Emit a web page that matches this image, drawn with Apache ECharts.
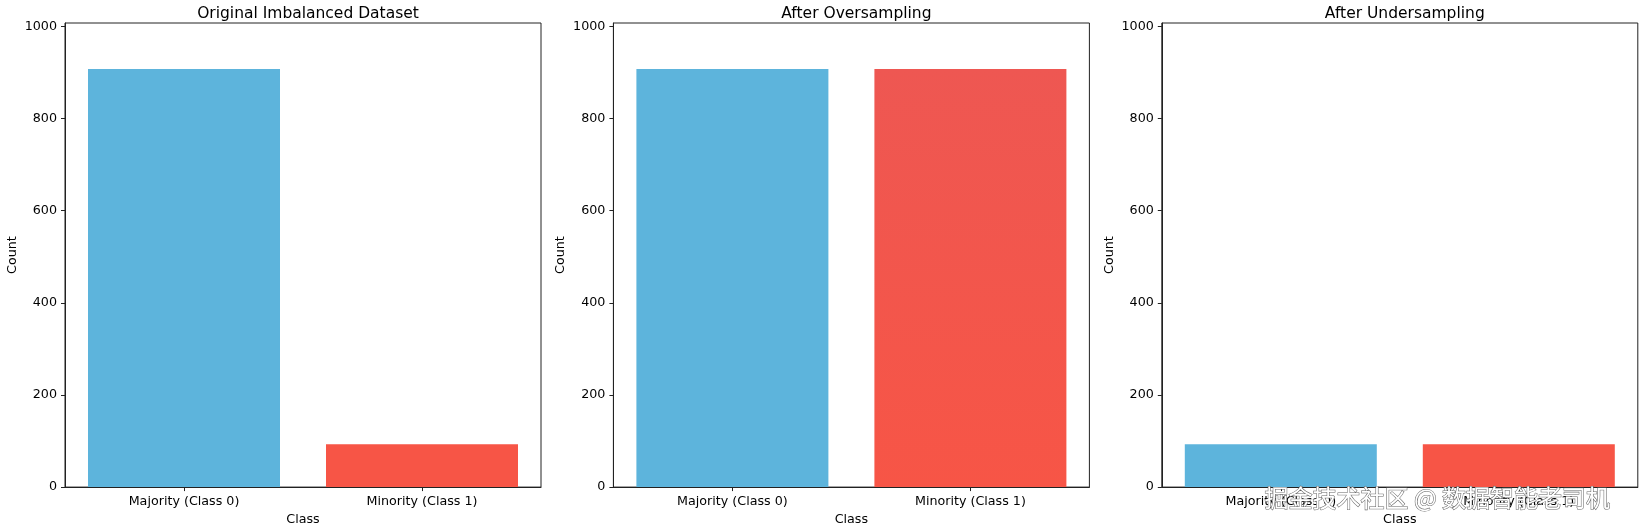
<!DOCTYPE html>
<html>
<head>
<meta charset="utf-8">
<script src="https://cdn.jsdelivr.net/npm/echarts@6/dist/echarts.min.js"></script>
<style>
  html, body { margin: 0; padding: 0; background: #fff; }
  #main { width: 1644px; height: 531px; }
</style>
</head>
<body>
<div id="main"></div>
<script>
// data
const classes = ['Majority (Class 0)', 'Minority (Class 1)'];
const panelTitles = ['Original Imbalanced Dataset', 'After Oversampling', 'After Undersampling'];
const originalCounts = [907, 93];
const oversampledCounts = [907, 907];
const undersampledCounts = [93, 93];
const yTicks = [0, 200, 400, 600, 800, 1000];
const watermark = '掘金技术社区 @ 数据智能老司机';

const panels = [originalCounts, oversampledCounts, undersampledCounts];
const blue = '#5db4dc';
const red = '#f75546';
const font = 'DejaVu Sans';

const chart = echarts.init(document.getElementById('main'), null, { renderer: 'canvas' });

const lefts = [65, 613.4, 1161.8];
const W = 476, TOP = 23, H = 464.5;

const grid = [], xAxis = [], yAxis = [], series = [], title = [];
lefts.forEach((l, i) => {
  grid.push({ left: l, top: TOP, width: W, height: H, show: true, borderColor: '#222', borderWidth: 1, backgroundColor: '#fff' });
  title.push({
    text: panelTitles[i], left: l + W / 2, top: 1, textAlign: 'center',
    textStyle: { fontFamily: font, fontSize: 15.5, fontWeight: 'normal', color: '#000' }
  });
  xAxis.push({
    type: 'category', gridIndex: i, data: classes,
    name: 'Class', nameLocation: 'middle', nameGap: 25,
    nameTextStyle: { fontFamily: font, fontSize: 12.7, color: '#000' },
    axisLine: { show: true, lineStyle: { color: '#222', width: 1 } },
    axisTick: { show: true, alignWithLabel: true, length: 4, lineStyle: { color: '#222' } },
    axisLabel: { fontFamily: font, fontSize: 12.7, color: '#000', margin: 8 },
    splitLine: { show: false }
  });
  yAxis.push({
    type: 'value', gridIndex: i, min: 0, max: 1007,
    name: 'Count', nameLocation: 'middle', nameGap: 46,
    nameTextStyle: { fontFamily: font, fontSize: 12.7, color: '#000' },
    axisLine: { show: true, lineStyle: { color: '#222', width: 1 } },
    axisTick: { show: true, length: 4, lineStyle: { color: '#222' }, customValues: yTicks },
    axisLabel: {
      fontFamily: font, fontSize: 12.7, color: '#000', margin: 8, customValues: yTicks,
      formatter: v => String(v)
    },
    splitLine: { show: false }
  });
  const counts = panels[i];
  series.push({
    type: 'bar', xAxisIndex: i, yAxisIndex: i, barWidth: 192,
    data: counts.map((v, j) => {
      let color = j === 0 ? blue : red;
      if (i === 1 && j === 1) {
        color = new echarts.graphic.LinearGradient(0, 0, 0, 1, [
          { offset: 0, color: '#ee5752' }, { offset: 1, color: '#f75546' }
        ]);
      }
      return { value: v, itemStyle: { color: color } };
    })
  });
});

chart.setOption({
  animation: false,
  title, grid, xAxis, yAxis, series,
  graphic: [{
    type: 'text', left: 1264, top: 485, z: 100,
    style: {
      text: watermark, fontFamily: 'Noto Sans CJK SC', fontSize: 24,
      fill: '#fff', stroke: '#666', lineWidth: 1.1
    }
  }]
});
</script>
</body>
</html>
